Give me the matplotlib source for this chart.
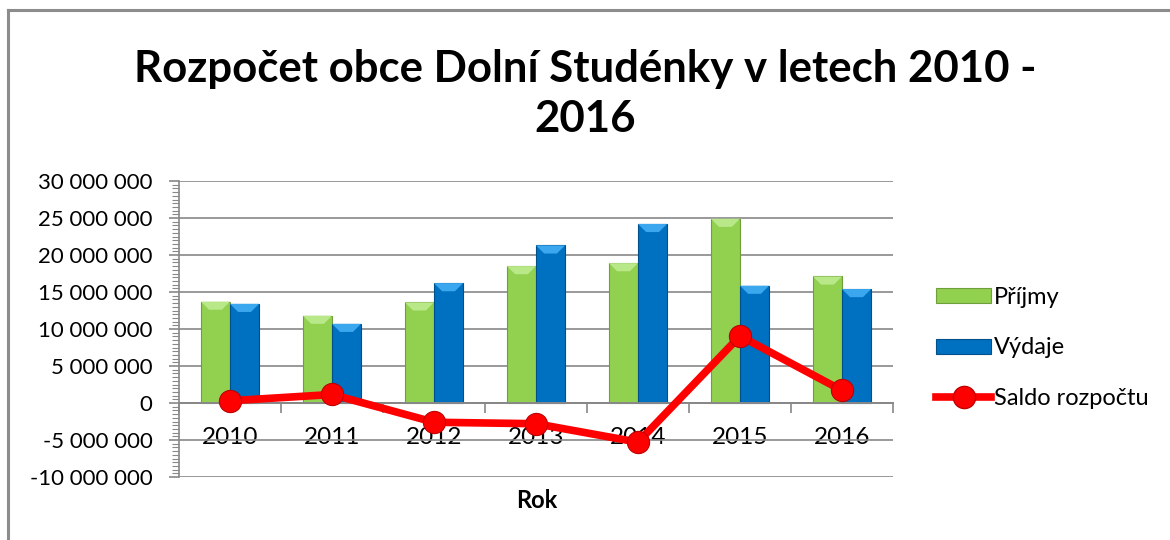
import matplotlib
matplotlib.use("Agg")
import matplotlib.pyplot as plt
import numpy as np
from matplotlib.lines import Line2D
from matplotlib.patches import Patch, Polygon
from matplotlib.ticker import FuncFormatter, MultipleLocator, FixedLocator

plt.rcParams['font.family'] = ['Lato', 'DejaVu Sans']
plt.rcParams['axes.unicode_minus'] = False

years = ['2010', '2011', '2012', '2013', '2014', '2015', '2016']
prijmy = [13.7e6, 11.8e6, 13.6e6, 18.5e6, 18.9e6, 24.9e6, 17.1e6]
vydaje = [13.4e6, 10.7e6, 16.2e6, 21.3e6, 24.2e6, 15.85e6, 15.4e6]
saldo = [0.3e6, 1.15e6, -2.6e6, -2.8e6, -5.3e6, 9.05e6, 1.7e6]

title = 'Rozpočet obce Dolní Studénky v letech 2010 -\n2016'
xlabel = 'Rok'
labels = ['Příjmy', 'Výdaje', 'Saldo rozpočtu']

green = '#92D050'
green_light = '#B9E889'
green_edge = '#6E9F3A'
blue = '#0070C0'
blue_light = '#3BA7EE'
blue_edge = '#00508C'
red = '#FF0000'
grid = '#888888'

fig = plt.figure(figsize=(11.7, 5.4), dpi=100)
fig.patch.set_facecolor('white')

# outer chart frame (left and top visible)
fig.add_artist(Line2D([8/1170, 8/1170], [0, 1 - 10/540], color='#8C8C8C', lw=2.2, transform=fig.transFigure))
fig.add_artist(Line2D([8/1170, 1.0], [1 - 10/540, 1 - 10/540], color='#8C8C8C', lw=2.2, transform=fig.transFigure))

ax = fig.add_axes([179/1170, 1 - 477/540, (893 - 179)/1170, (477 - 181)/540])

x = np.arange(len(years))
w = 0.285
bars_p = ax.bar(x - w/2, prijmy, width=w, color=green, edgecolor=green_edge, linewidth=0.8, zorder=3)
bars_v = ax.bar(x + w/2, vydaje, width=w, color=blue, edgecolor=blue_edge, linewidth=0.8, zorder=3)

# bevel highlight on the top of each bar (derived from the drawn bars)
bev_h = 1.1e6
for bars, light in ((bars_p, green_light), (bars_v, blue_light)):
    for b in bars:
        x0, bw, top = b.get_x(), b.get_width(), b.get_height()
        inset = bw * 0.28
        poly = Polygon([[x0, top], [x0 + bw, top], [x0 + bw - inset, top - bev_h], [x0 + inset, top - bev_h]],
                       closed=True, facecolor=light, edgecolor='none', zorder=3.5)
        ax.add_patch(poly)

ax.plot(x, saldo, color=red, lw=5.5, marker='o', markersize=16,
        markerfacecolor=red, markeredgecolor='#C00000', markeredgewidth=0.8,
        solid_capstyle='butt', zorder=5)

ax.set_xlim(-0.5, len(years) - 0.5)
ax.set_ylim(-10e6, 30e6)

ax.yaxis.set_major_locator(MultipleLocator(5e6))
ax.yaxis.set_minor_locator(MultipleLocator(0.5e6))
ax.yaxis.set_major_formatter(FuncFormatter(lambda v, p: f"{int(round(v)):,}".replace(',', ' ')))
ax.grid(axis='y', which='major', color=grid, lw=1.2, zorder=0)
ax.tick_params(axis='y', which='major', length=7, width=1.2, color=grid, labelsize=16, pad=12)
ax.tick_params(axis='y', which='minor', length=5, width=0.8, color=grid)

for s in ['top', 'right']:
    ax.spines[s].set_visible(False)
ax.spines['left'].set_color(grid)
ax.spines['left'].set_linewidth(1.2)
ax.spines['bottom'].set_position(('data', 0))
ax.spines['bottom'].set_color(grid)
ax.spines['bottom'].set_linewidth(1.4)
ax.spines['bottom'].set_zorder(4)

ax.xaxis.set_major_locator(FixedLocator(np.arange(len(years) + 1) - 0.5))
ax.xaxis.set_major_formatter(FuncFormatter(lambda v, p: ''))
ax.set_xticks(x, years, minor=True)
ax.tick_params(axis='x', which='major', length=7, width=1.2, color=grid, direction='out')
ax.tick_params(axis='x', which='minor', length=0, labelsize=17.5, pad=17)

fig.text(537/1170, 1 - 500/540, xlabel, ha='center', va='center', fontsize=17, fontweight='bold')
fig.text(0.5, 1 - 94/540, title, ha='center', va='center', fontsize=31.5, fontweight='bold', linespacing=1.33)

handles = [Patch(facecolor=green, edgecolor=green_edge, lw=0.8),
           Patch(facecolor=blue, edgecolor=blue_edge, lw=0.8),
           Line2D([0], [0], color=red, lw=5.5, marker='o', markersize=16,
                  markerfacecolor=red, markeredgecolor='#C00000')]
fig.legend(handles, labels, loc='center left', bbox_to_anchor=(927/1170, 1 - 348/540),
           frameon=False, fontsize=17, labelspacing=1.25, handlelength=2.3,
           handleheight=0.6, handletextpad=0.15, borderaxespad=0)

fig.savefig('out.png', dpi=100, facecolor='white')
